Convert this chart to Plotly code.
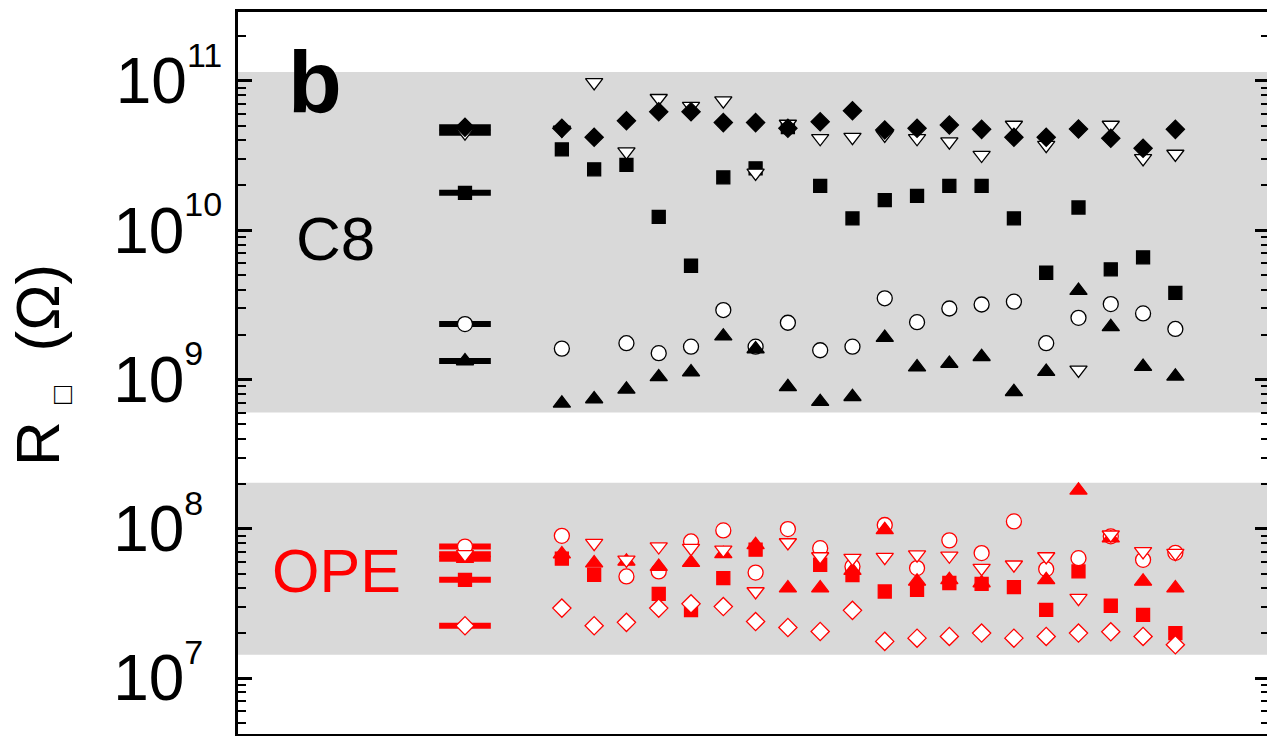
import plotly.graph_objects as go

# ---------------- data ----------------
cols = list(range(1, 21))          # sample index
mean_x = -2                        # position of the mean markers
mean_halfwidth = 0.8

# C8 (black)
c8_diamond = [4.82e10, 4.20e10, 5.42e10, 6.22e10, 6.22e10, 5.26e10, 5.26e10, 4.82e10, 5.33e10, 6.32e10,
              4.70e10, 4.82e10, 5.07e10, 4.74e10, 4.20e10, 4.20e10, 4.76e10, 4.13e10, 3.54e10, 4.74e10]
c8_tridown = [4.70e10, 9.79e10, 3.36e10, 7.66e10, 6.79e10, 7.38e10, 2.42e10, 5.15e10, 4.13e10, 4.20e10,
              4.35e10, 4.13e10, 3.92e10, 3.19e10, 5.07e10, 3.72e10, 1.16e9, 5.07e10, 3.03e10, 3.24e10]
c8_square = [3.48e10, 2.56e10, 2.74e10, 1.23e10, 5.78e9, 2.26e10, 2.60e10, 4.90e10, 1.98e10, 1.20e10,
             1.59e10, 1.70e10, 1.98e10, 1.98e10, 1.20e10, 5.19e9, 1.42e10, 5.47e9, 6.58e9, 3.81e9]
c8_circle = [1.61e9, None, 1.75e9, 1.50e9, 1.66e9, 2.92e9, 1.66e9, 2.40e9, 1.57e9, 1.66e9,
             3.50e9, 2.42e9, 2.99e9, 3.18e9, 3.32e9, 1.75e9, 2.59e9, 3.20e9, 2.77e9, 2.18e9]
c8_triup = [6.92e8, 7.40e8, 8.59e8, 1.04e9, 1.12e9, 1.95e9, 1.60e9, 8.93e8, 7.10e8, 7.66e8,
            1.91e9, 1.21e9, 1.28e9, 1.42e9, 8.28e8, 1.13e9, 3.94e9, 2.25e9, 1.22e9, 1.05e9]
c8_mean = {"diamond": 4.90e10, "tridown": 4.50e10, "square": 1.78e10, "circle": 2.35e9, "triup": 1.33e9}

# OPE (red)
ope_circle = [8.97e7, None, 4.79e7, 5.18e7, 8.22e7, 9.75e7, 5.09e7, 9.95e7, 7.41e7, 5.58e7,
              1.06e8, 5.45e7, 8.36e7, 6.87e7, 1.12e8, 5.37e7, 6.35e7, 8.90e7, 6.19e7, 6.90e7]
ope_tridown = [None, 8.02e7, 6.19e7, 7.60e7, 7.41e7, 7.23e7, 3.80e7, 8.09e7, 6.52e7, 6.35e7,
               6.46e7, 6.70e7, 6.59e7, 5.45e7, 5.74e7, 6.52e7, 3.43e7, 9.12e7, 7.05e7, 6.87e7]
ope_triup = [6.76e7, 5.89e7, 6.04e7, 5.58e7, 5.94e7, 6.79e7, 7.80e7, 4.00e7, 4.00e7, 5.25e7,
             9.84e7, 4.44e7, 4.55e7, 4.33e7, None, 4.55e7, 1.81e8, 8.65e7, 4.44e7, 4.00e7]
ope_square = [6.31e7, 4.92e7, None, 3.66e7, 2.85e7, 4.67e7, 7.24e7, None, 5.74e7, 4.90e7,
              3.80e7, 3.90e7, 4.33e7, 4.27e7, 4.06e7, 2.86e7, 5.18e7, 3.05e7, 2.65e7, 2.00e7]
ope_diamond = [2.94e7, 2.24e7, 2.36e7, 2.94e7, 3.14e7, 3.01e7, 2.39e7, 2.18e7, 2.05e7, 2.84e7,
               1.76e7, 1.85e7, 1.90e7, 2.00e7, 1.85e7, 1.90e7, 2.00e7, 2.04e7, 1.90e7, 1.67e7]
ope_mean = {"circle": 7.60e7, "tridown": 6.74e7, "triup": 6.30e7, "square": 4.55e7, "diamond": 2.24e7}

# shaded ranges
c8_band = [6.0e8, 1.15e11]
ope_band = [1.43e7, 2.03e8]

ytick_vals = [1e7, 1e8, 1e9, 1e10, 1e11]
ytick_exp = ["7", "8", "9", "10", "11"]

# ---------------- figure ----------------
FONT = "Liberation Sans, Arial, Helvetica, sans-serif"
BAND = "#d9d9d9"
RED = "#ff0000"

fig = go.Figure()

for lo, hi in (c8_band, ope_band):
    fig.add_trace(go.Scatter(x=[-50, 60, 60, -50], y=[lo, lo, hi, hi], fill="toself",
                             fillcolor=BAND, mode="lines", line=dict(width=0),
                             hoverinfo="skip", showlegend=False))

sym = {"diamond": ("diamond", 14), "tridown": ("triangle-down", 15), "square": ("square", 13),
       "circle": ("circle", 15), "triup": ("triangle-up", 15)}

# mean bars
for means, color in ((c8_mean, "black"), (ope_mean, RED)):
    for key in ("square", "circle", "triup", "tridown", "diamond"):
        v = means[key]
        fig.add_trace(go.Scatter(x=[mean_x - mean_halfwidth, mean_x + mean_halfwidth], y=[v, v],
                                 mode="lines", line=dict(color=color, width=6),
                                 hoverinfo="skip", showlegend=False))

def add_series(vals, mean, key, color, filled):
    s, size = sym[key]
    fig.add_trace(go.Scatter(
        x=[mean_x] + cols, y=[mean] + vals, mode="markers", showlegend=False,
        marker=dict(symbol=s, size=size,
                    color=color if filled else "white",
                    line=dict(color=color, width=1.3))))

# C8: draw order square, circle, up-tri, down-tri, diamond
add_series(c8_square, c8_mean["square"], "square", "black", True)
add_series(c8_circle, c8_mean["circle"], "circle", "black", False)
add_series(c8_triup, c8_mean["triup"], "triup", "black", True)
add_series(c8_tridown, c8_mean["tridown"], "tridown", "black", False)
add_series(c8_diamond, c8_mean["diamond"], "diamond", "black", True)

# OPE
add_series(ope_square, ope_mean["square"], "square", RED, True)
add_series(ope_circle, ope_mean["circle"], "circle", RED, False)
add_series(ope_triup, ope_mean["triup"], "triup", RED, True)
add_series(ope_tridown, ope_mean["tridown"], "tridown", RED, False)
add_series(ope_diamond, ope_mean["diamond"], "diamond", RED, False)

def tick_text(e):
    pad = "" if len(e) == 2 else "\u2007"
    # raised a little higher than a single <sup> would put it
    return ("10<sup><span style='font-size:23px'><sup><span style='font-size:34px'>"
            + e + pad + "</span></sup></span></sup>")

# the page body has an 8px default margin: the figure is sized so the plot area
# lands on the same screen pixels as the reference (x 238-1269, y 12-734)
fig.update_layout(
    width=1267, height=728,
    margin=dict(l=230, r=6, t=4, b=2),
    paper_bgcolor="white", plot_bgcolor="white",
    font=dict(family=FONT, color="black"),
    showlegend=False,
    xaxis=dict(range=[-9.03, 22.9], showticklabels=False, ticks="", showgrid=False,
               zeroline=False, showline=True, linecolor="black", linewidth=3, mirror=True,
               automargin=False),
    yaxis=dict(type="log", range=[6.625, 11.462], showgrid=False, zeroline=False,
               showline=True, linecolor="black", linewidth=3, mirror="ticks",
               ticks="inside", ticklen=14, tickwidth=2.5, tickcolor="black",
               tickvals=ytick_vals, ticktext=[tick_text(e) for e in ytick_exp],
               tickfont=dict(size=64, family=FONT), automargin=False,
               minor=dict(ticks="inside", ticklen=8, tickwidth=2, tickcolor="black",
                          dtick="D1", showgrid=False)),
    annotations=[
        dict(text="<b>b</b>", x=(315 - 238) / 1031, y=(734 - 82) / 722, xref="paper", yref="paper",
             showarrow=False, font=dict(size=88, family=FONT, color="black"),
             xanchor="center", yanchor="middle"),
        dict(text="C8", x=(335 - 238) / 1031, y=(734 - 238) / 722, xref="paper", yref="paper",
             showarrow=False, font=dict(size=62, family=FONT, color="black"),
             xanchor="center", yanchor="middle"),
        dict(text="OPE", x=(336 - 238) / 1031, y=(734 - 571) / 722, xref="paper", yref="paper",
             showarrow=False, font=dict(size=61, family=FONT, color=RED),
             xanchor="center", yanchor="middle"),
        dict(text="R\u00a0<sub><span style='font-size:30px'>□</span></sub>\u00a0\u00a0(Ω)",
             x=(40 - 238) / 1031, y=(734 - 365) / 722, xref="paper", yref="paper",
             textangle=-90, showarrow=False, font=dict(size=62, family=FONT, color="black"),
             xanchor="center", yanchor="middle"),
    ],
)

fig.write_html("out.html")
